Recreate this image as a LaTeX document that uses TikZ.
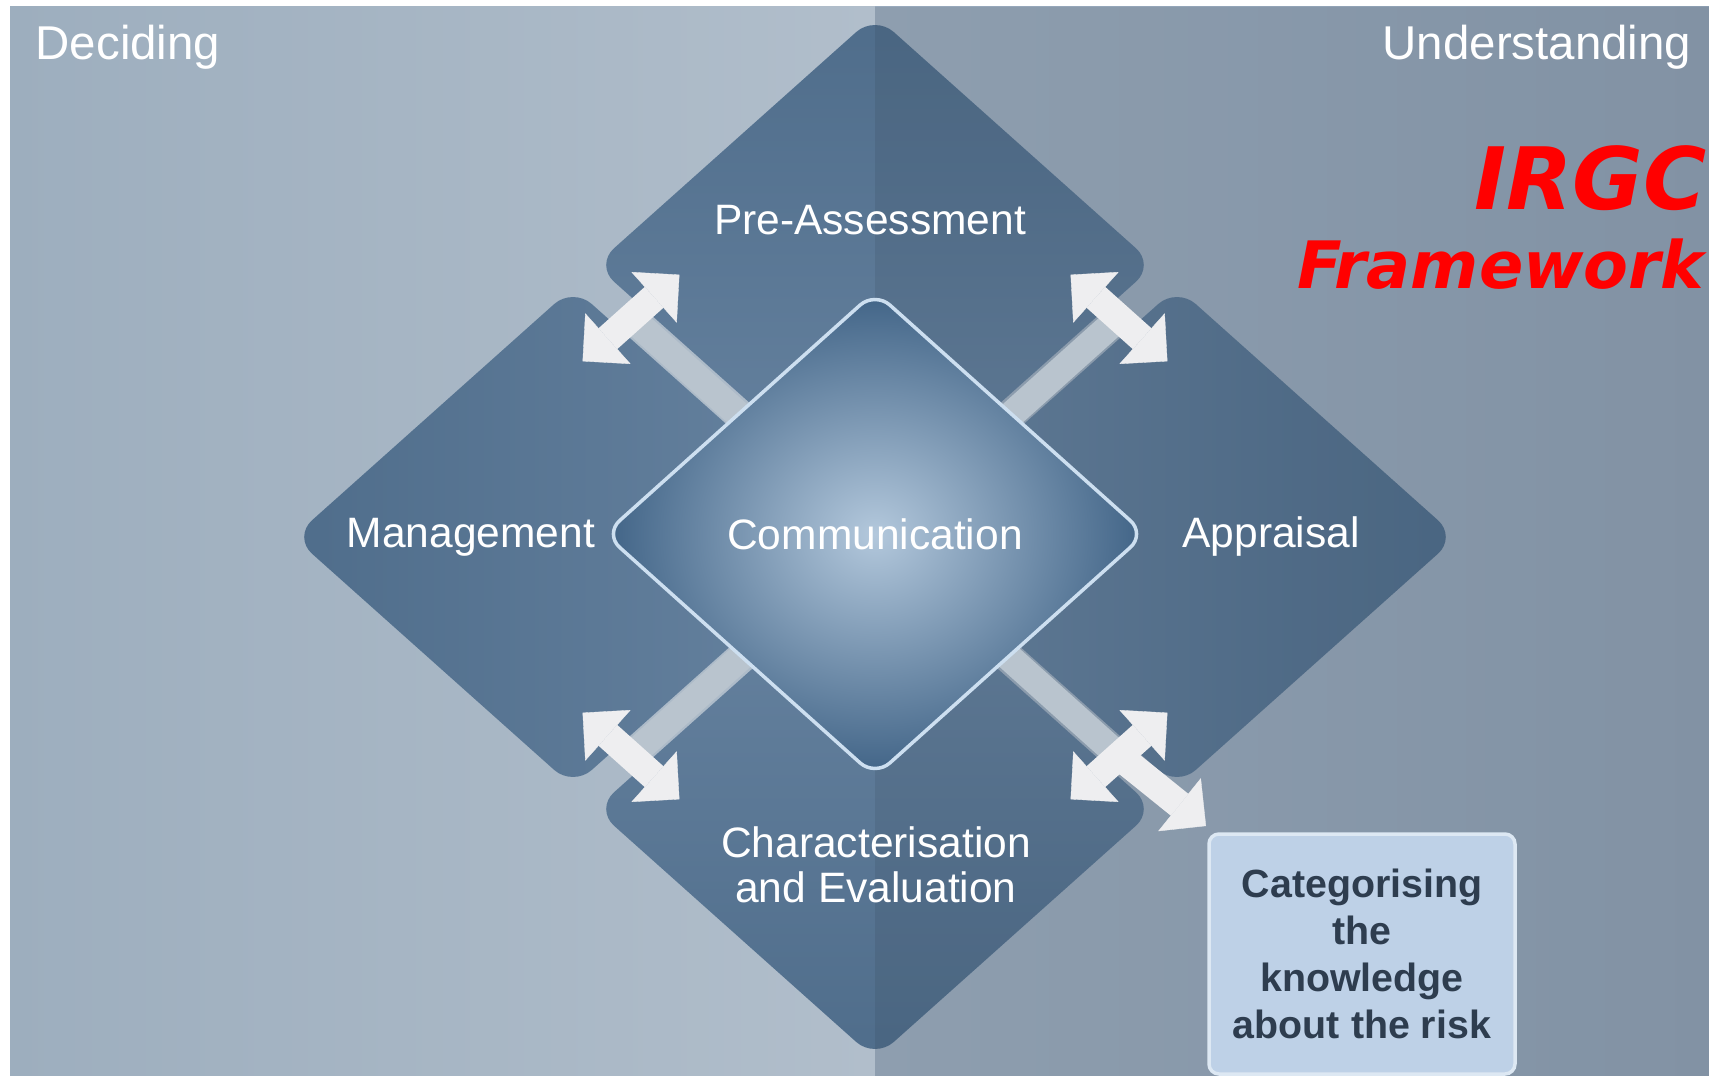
\documentclass[tikz,border=0pt]{standalone}
\usepackage{fontspec}
\setmainfont{Liberation Sans}
\newfontfamily\irgcfont{DejaVu Sans}
\usetikzlibrary{shapes.geometric,arrows.meta}

\definecolor{bgleftA}{HTML}{9DAEBE}
\definecolor{bgleftB}{HTML}{B1BECB}
\definecolor{bgrightA}{HTML}{99AABD}
\definecolor{bgrightB}{HTML}{8C9EB1}
\definecolor{petaldark}{HTML}{4F6D8B}
\definecolor{petallight}{HTML}{6783A0}
\definecolor{cinner}{HTML}{B3C8DC}
\definecolor{couter}{HTML}{406386}
\definecolor{cborder}{HTML}{CDDFF0}
\definecolor{stripgray}{HTML}{B9C4CE}
\definecolor{arrwhite}{HTML}{EEEEF0}
\definecolor{boxfill}{HTML}{BED1E7}
\definecolor{boxedge}{HTML}{DDE8F3}
\definecolor{boxtext}{HTML}{2E3D4F}

\tikzset{
  petal/.style={diamond,inner sep=0pt,minimum width=56mm,minimum height=50mm,rounded corners=2.5mm},
  lbl/.style={text=white,inner sep=0pt,align=center,font=\fontsize{12.1}{12.8}\selectfont},
  corner/.style={text=white,inner sep=0pt,font=\fontsize{13.5}{15}\selectfont},
  strip/.style={draw=stripgray,line width=2.7mm},
  dblarr/.style={draw=arrwhite,line width=2.8mm,
    {Triangle[length=3.4mm,width=6.8mm,line width=0.1pt]}-{Triangle[length=3.4mm,width=6.8mm,line width=0.1pt]}},
  arm/.style={draw=arrwhite,line width=2.8mm,-{Triangle[length=3.4mm,width=6.8mm,line width=0.1pt]}},
}

\begin{document}
\begin{tikzpicture}[x=0.1mm,y=-0.1mm]
  \useasboundingbox (0,0) rectangle (1709,1076);
  \fill[white] (0,0) rectangle (1709,1076);
  \shade[left color=bgleftA,right color=bgleftB] (10,7) rectangle (875,1076);
  \shade[left color=bgrightA,right color=bgrightB] (875,7) rectangle (1709,1076);

  \node[petal,top color=petaldark,bottom color=petallight] (pre) at (875,265) {};
  \node[petal,left color=petaldark,right color=petallight] (mgmt) at (573,537) {};
  \node[petal,right color=petaldark,left color=petallight] (appr) at (1177,537) {};
  \node[petal,bottom color=petaldark,top color=petallight] (chev) at (875,809) {};

  \fill[black,opacity=0.07] (875,7) rectangle (1709,1076);

  \coordinate (ctr) at (875,537);
  \coordinate (tlc) at (631,318);
  \coordinate (trc) at (1119,318);
  \coordinate (blc) at (631,756);
  \coordinate (brc) at (1119,756);
  \draw[strip] (ctr) -- (tlc);
  \draw[strip] (ctr) -- (trc);
  \draw[strip] (ctr) -- (blc);
  \draw[strip] (ctr) -- (brc);

  \node[diamond,inner sep=0pt,minimum width=54.2mm,minimum height=48.6mm,rounded corners=2mm,
    draw=cborder,line width=0.35mm,inner color=cinner,outer color=couter,
    text=white,font=\fontsize{12.1}{12.8}\selectfont] (comm) at (875,534) {Communication};

  \coordinate (tla) at (582.6,361.3);
  \coordinate (tlb) at (679.4,274.7);
  \coordinate (tra) at (1070.6,274.7);
  \coordinate (trb) at (1167.4,361.3);
  \coordinate (bla) at (582.6,712.7);
  \coordinate (blb) at (679.4,799.3);
  \coordinate (bra) at (1070.6,799.3);
  \coordinate (brb) at (1167.4,712.7);
  \coordinate (armtip) at (1206,826);
  \draw[dblarr] (tla) -- (tlb);
  \draw[dblarr] (tra) -- (trb);
  \draw[dblarr] (bla) -- (blb);
  \draw[dblarr] (bra) -- (brb);
  \draw[arm] (brc) -- (armtip);

  \node[rectangle,rounded corners=1mm,fill=boxfill,draw=boxedge,line width=0.35mm,
    minimum width=30.6mm,minimum height=24mm,align=center,text=boxtext,
    font=\bfseries\fontsize{11.2}{13.3}\selectfont] (cat) at (1362,954)
    {Categorising\\the\\knowledge\\about the risk};

  \node[lbl] (pretxt) at (870,220) {Pre-Assessment};
  \node[lbl] (mgmttxt) at (471,537) {Management};
  \node[lbl] (apprtxt) at (1271,537) {Appraisal};
  \node[lbl] (chevtxt) at (876,865) {Characterisation\\and Evaluation};

  \node[corner,anchor=base west] (decide) at (35,60) {Deciding};
  \node[corner,anchor=base east] (under) at (1692,60) {Understanding};

  \node[anchor=base east,inner sep=0pt,text=red,font=\irgcfont\bfseries\itshape\fontsize{24.5}{26}\selectfont] (irgc) at (1707,210) {IRGC};
  \node[anchor=base east,inner sep=0pt,text=red,font=\irgcfont\bfseries\itshape\fontsize{18.6}{20}\selectfont] (frame) at (1705,289) {Framework};
\end{tikzpicture}
\end{document}
